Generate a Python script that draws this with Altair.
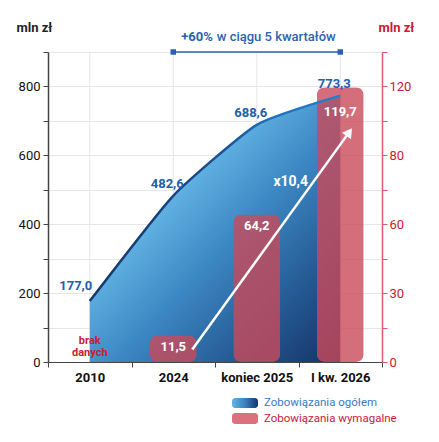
import altair as alt
import pandas as pd

# ---------------- data ----------------
categories = ["2010", "2024", "koniec 2025", "I kw. 2026"]
total_values = [177.0, 482.6, 688.6, 773.3]
total_labels = ["177,0", "482,6", "688,6", "773,3"]
due_categories = ["2024", "koniec 2025", "I kw. 2026"]
due_values = [11.5, 64.2, 119.7]
due_labels = ["11,5", "64,2", "119,7"]
growth_bold = "+60%"
growth_rest = "w ciągu 5 kwartałów"
multiplier_text = "x10,4"
no_data_text = ["brak", "danych"]
legend_labels = ["Zobowiązania ogółem", "Zobowiązania wymagalne"]
left_ticks = list(range(0, 901, 100))
right_ticks = list(range(0, 136, 15))
unit = "mln zł"

total_df = pd.DataFrame({"cat": categories, "value": total_values, "label": total_labels})
due_df = pd.DataFrame({"cat": due_categories, "value": due_values, "label": due_labels})
arrow_df = pd.DataFrame({"cat": [due_categories[0]], "cat2": [due_categories[-1]],
                         "value": [due_values[0]], "value2": [due_values[-1]]})
growth_df = pd.DataFrame({"cat": [due_categories[0]], "cat2": [due_categories[-1]],
                          "mid": [categories[2]]})
growth_pts = pd.DataFrame({"cat": [due_categories[0], due_categories[-1]]})
one = pd.DataFrame({"k": [0]})

FONT = "Roboto"
BLUE_TXT = "#2160ad"
RED_TXT = "#c8202f"

# ---------------- scales / axes ----------------
xscale = alt.Scale(type="band", domain=categories, paddingInner=0, paddingOuter=0)
x_axis = alt.Axis(title=None, tickBand="extent", grid=False, labelFontWeight="bold",
                  labelAngle=0, labelFontSize=13, labelColor="#111", labelPadding=4,
                  tickSize=5, domainColor="#444", tickColor="#444", labelFont=FONT)
X = alt.X("cat:N", scale=xscale, axis=x_axis)

left_axis = alt.Axis(title=unit, values=left_ticks,
                     labelExpr="datum.value % 200 == 0 ? datum.label : ''",
                     grid=True, gridColor="#e6e6e6", tickSize=5, labelPadding=3,
                     labelFontSize=13, labelColor="#111", labelFont=FONT,
                     domainColor="#444", domainWidth=1.5, tickColor="#444",
                     titleAngle=0, titleX=-32, titleY=-25, titleAlign="left",
                     titleBaseline="middle", titleFontSize=13, titleFontWeight="bold",
                     titleColor="#222", titleFont=FONT)
left_scale = alt.Scale(domain=[0, 900], nice=False)
YL = alt.Y("value:Q", scale=left_scale, axis=left_axis)
YL_fg = alt.Y("value:Q", scale=left_scale, axis=None)

right_axis = alt.Axis(title=unit, orient="right", values=right_ticks,
                      labelExpr="datum.value % 30 == 0 ? (datum.value == 90 ? '80' : datum.label) : ''",
                      grid=False, tickSize=5, labelPadding=2,
                      labelFontSize=13, labelColor=RED_TXT, labelFont=FONT,
                      domainColor="#d65d6d", domainWidth=1.5, tickColor="#d65d6d",
                      titleAngle=0, titleX=-4, titleY=-25, titleAlign="left",
                      titleBaseline="middle", titleFontSize=13, titleFontWeight="bold",
                      titleColor=RED_TXT, titleFont=FONT)
right_scale = alt.Scale(domain=[0, 135], nice=False)
YR = alt.Y("value:Q", scale=right_scale, axis=right_axis)

area_grad = alt.Gradient(
    gradient="linear", x1=0, y1=0, x2=1, y2=1,
    stops=[alt.GradientStop(color="#86cff2", offset=0),
           alt.GradientStop(color="#66b6e6", offset=0.33),
           alt.GradientStop(color="#3c88c4", offset=0.55),
           alt.GradientStop(color="#23568f", offset=0.8),
           alt.GradientStop(color="#143266", offset=1)])
line_grad = alt.Gradient(
    gradient="linear", x1=0, y1=0, x2=1, y2=0,
    stops=[alt.GradientStop(color="#16386a", offset=0),
           alt.GradientStop(color="#1a4884", offset=0.45),
           alt.GradientStop(color="#1e6cb5", offset=0.7),
           alt.GradientStop(color="#2082cc", offset=1)])
legend_grad = alt.Gradient(
    gradient="linear", x1=0, y1=0, x2=1, y2=0,
    stops=[alt.GradientStop(color="#62b4e4", offset=0),
           alt.GradientStop(color="#3a82c0", offset=0.5),
           alt.GradientStop(color="#15356b", offset=1)])

base_total = alt.Chart(total_df)

# ---------------- background layer (left scale, with axes) ----------------
vgrid = base_total.mark_rule(color="#e6e6e6", strokeWidth=1).encode(x=X)
area = base_total.mark_area(interpolate="cardinal", tension=0.5, fill=area_grad).encode(x=X, y=YL)

g_rule = alt.Chart(growth_df).mark_rule(color="#2a5fae", strokeWidth=1.5).encode(
    x=X, x2="cat2:N", y=alt.value(0))
g_pts = alt.Chart(growth_pts).mark_point(shape="square", filled=True, size=30,
                                         color="#2a5fae", opacity=1).encode(x=X, y=alt.value(0))
g_txt1 = alt.Chart(growth_df).mark_text(font=FONT, fontSize=13, fontWeight="bold",
                                        color="#2a64b0", align="right", dx=-44,
                                        baseline="middle").encode(
    x=alt.X("mid:N", scale=xscale, axis=x_axis), y=alt.value(-15), text=alt.value(growth_bold))
g_txt2 = alt.Chart(growth_df).mark_text(font=FONT, fontSize=13, fontWeight=500,
                                        color="#2a64b0", align="left", dx=-40,
                                        baseline="middle").encode(
    x=alt.X("mid:N", scale=xscale, axis=x_axis), y=alt.value(-15), text=alt.value(growth_rest))

nodata = alt.Chart(pd.DataFrame({"cat": [categories[0]]})).mark_text(
    font=FONT, fontSize=11, fontWeight="bold", color=RED_TXT, baseline="middle",
    lineHeight=12).encode(x=X, y=alt.value(289), text=alt.value(no_data_text))

leg_sw1 = alt.Chart(one).mark_rect(cornerRadius=3, fill=legend_grad).encode(
    x=alt.value(184), x2=alt.value(210), y=alt.value(346), y2=alt.value(356))
leg_sw2 = alt.Chart(one).mark_rect(cornerRadius=3, fill="#db717c").encode(
    x=alt.value(184), x2=alt.value(210), y=alt.value(361), y2=alt.value(372))
leg_t1 = alt.Chart(one).mark_text(font=FONT, fontSize=11.5, color="#3a7ac4", align="left",
                                  baseline="middle").encode(
    x=alt.value(216), y=alt.value(351), text=alt.value(legend_labels[0]))
leg_t2 = alt.Chart(one).mark_text(font=FONT, fontSize=11.5, color="#c8203a", align="left",
                                  baseline="middle").encode(
    x=alt.value(216), y=alt.value(367), text=alt.value(legend_labels[1]))

left_bg = alt.layer(vgrid, area, g_rule, g_pts, g_txt1, g_txt2,
                    nodata, leg_sw1, leg_sw2, leg_t1, leg_t2)

# ---------------- bars (right scale) ----------------
base_due = alt.Chart(due_df)
bars = base_due.mark_bar(size=47, cornerRadius=8, color="#c94a5a", opacity=0.8).encode(x=X, y=YR)
blab1 = base_due.transform_filter(alt.datum.cat != due_categories[-1]).mark_text(
    font=FONT, fontSize=13, fontWeight="bold", color="white", dy=11,
    baseline="middle").encode(x=X, y=YR, text="label:N")
blab2 = base_due.transform_filter(alt.datum.cat == due_categories[-1]).mark_text(
    font=FONT, fontSize=13, fontWeight="bold", color="white", dy=25,
    baseline="middle").encode(x=X, y=YR, text="label:N")
arrow = alt.Chart(arrow_df).mark_rule(color="white", strokeWidth=2.5, xOffset=19, yOffset=14,
                                      x2Offset=9, y2Offset=45).encode(
    x=X, x2="cat2:N", y=YR, y2="value2:Q")
head = alt.Chart(arrow_df).mark_point(shape="triangle-up", filled=True, size=120, color="white",
                                      opacity=1, angle=36, xOffset=9, yOffset=45).encode(
    x=alt.X("cat2:N", scale=xscale, axis=x_axis),
    y=alt.Y("value2:Q", scale=right_scale, axis=right_axis))
mult = alt.Chart(pd.DataFrame({"cat": [categories[2]]})).mark_text(
    font=FONT, fontSize=14, fontWeight="bold", color="white", dx=34,
    baseline="middle").encode(x=X, y=alt.value(130), text=alt.value(multiplier_text))

right = alt.layer(bars, blab1, blab2, arrow, head, mult)

# ---------------- foreground (left scale, no axis) ----------------
line = base_total.mark_line(interpolate="cardinal", tension=0.5, stroke=line_grad,
                            strokeWidth=2.5).encode(x=X, y=YL_fg)
lab_first = base_total.transform_filter(alt.datum.cat == categories[0]).mark_text(
    font=FONT, fontSize=13, fontWeight="bold", color=BLUE_TXT, dx=-14, dy=-15,
    baseline="middle").encode(x=X, y=YL_fg, text="label:N")
lab_rest = base_total.transform_filter(alt.datum.cat != categories[0]).mark_text(
    font=FONT, fontSize=13, fontWeight="bold", color=BLUE_TXT, dx=-6, dy=-12,
    baseline="middle").encode(x=X, y=YL_fg, text="label:N")
left_fg = alt.layer(line, lab_first, lab_rest)

chart = alt.layer(left_bg, right, left_fg).resolve_scale(y="independent").properties(
    width=334, height=310,
    padding={"left": 40, "top": 44, "right": 49, "bottom": 72},
    autosize=alt.AutoSizeParams(type="none"),
    background="white",
).configure_view(stroke=None).configure_text(font=FONT)

chart.save("out.html", embed_options={"renderer": "svg", "actions": False})
